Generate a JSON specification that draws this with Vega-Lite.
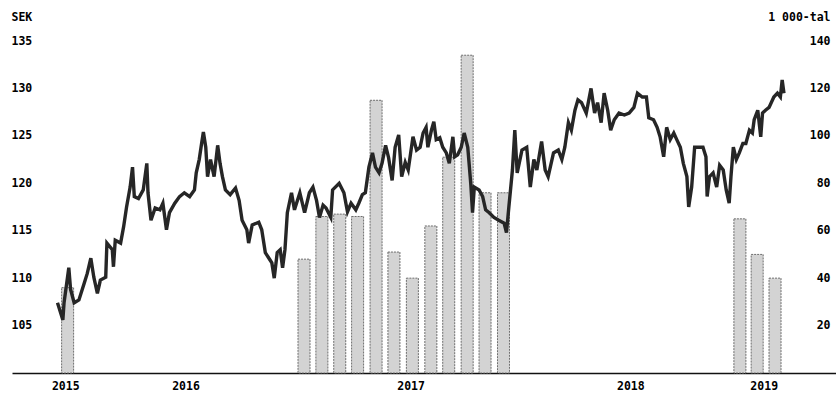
{
  "$schema": "https://vega.github.io/schema/vega-lite/v6.json",
  "width": 824,
  "height": 332,
  "autosize": {"type": "none"},
  "padding": {"left": 12, "top": 41, "right": 0, "bottom": 21},
  "background": "white",
  "config": {
    "view": {"stroke": null},
    "font": "DejaVu Sans Mono",
    "axis": {
      "labelFont": "DejaVu Sans Mono",
      "labelFontWeight": "bold",
      "labelFontSize": 11.5,
      "labelColor": "#000000",
      "titleFont": "DejaVu Sans Mono",
      "titleFontWeight": "bold",
      "titleFontSize": 11.5,
      "titleColor": "#000000",
      "grid": false,
      "ticks": false
    }
  },
  "datasets": {
    "volume": [
      {"date": "2015-12-15", "vol": 36},
      {"date": "2017-01-15", "vol": 48},
      {"date": "2017-02-14", "vol": 66},
      {"date": "2017-03-16", "vol": 67},
      {"date": "2017-04-15", "vol": 66},
      {"date": "2017-05-16", "vol": 115},
      {"date": "2017-06-15", "vol": 51},
      {"date": "2017-07-16", "vol": 40},
      {"date": "2017-08-16", "vol": 62},
      {"date": "2017-09-15", "vol": 91},
      {"date": "2017-10-16", "vol": 134},
      {"date": "2017-11-15", "vol": 76},
      {"date": "2017-12-16", "vol": 76},
      {"date": "2019-01-17", "vol": 65},
      {"date": "2019-02-15", "vol": 50},
      {"date": "2019-03-17", "vol": 40}
    ],
    "price": [
      {"date": "2015-11-28", "sek": 107.4},
      {"date": "2015-12-07", "sek": 105.6},
      {"date": "2015-12-09", "sek": 107.4},
      {"date": "2015-12-17", "sek": 111.1},
      {"date": "2015-12-20", "sek": 108.8},
      {"date": "2015-12-26", "sek": 107.4},
      {"date": "2016-01-03", "sek": 107.7},
      {"date": "2016-01-12", "sek": 109.5},
      {"date": "2016-01-17", "sek": 110.5},
      {"date": "2016-01-23", "sek": 112.1},
      {"date": "2016-01-28", "sek": 110.1},
      {"date": "2016-02-03", "sek": 108.4},
      {"date": "2016-02-08", "sek": 109.8},
      {"date": "2016-02-17", "sek": 110.1},
      {"date": "2016-02-19", "sek": 113.7},
      {"date": "2016-02-28", "sek": 113.0},
      {"date": "2016-03-01", "sek": 111.2},
      {"date": "2016-03-04", "sek": 114.0},
      {"date": "2016-03-13", "sek": 113.7},
      {"date": "2016-03-18", "sek": 115.4},
      {"date": "2016-03-23", "sek": 117.5},
      {"date": "2016-03-29", "sek": 119.6},
      {"date": "2016-04-02", "sek": 121.7},
      {"date": "2016-04-05", "sek": 118.6},
      {"date": "2016-04-12", "sek": 118.4},
      {"date": "2016-04-20", "sek": 119.3},
      {"date": "2016-04-26", "sek": 122.1},
      {"date": "2016-04-28", "sek": 119.0},
      {"date": "2016-05-03", "sek": 116.1},
      {"date": "2016-05-10", "sek": 117.4},
      {"date": "2016-05-18", "sek": 117.2},
      {"date": "2016-05-23", "sek": 117.9},
      {"date": "2016-05-29", "sek": 115.1},
      {"date": "2016-06-03", "sek": 116.9},
      {"date": "2016-06-12", "sek": 117.9},
      {"date": "2016-06-20", "sek": 118.6},
      {"date": "2016-06-28", "sek": 119.0},
      {"date": "2016-07-07", "sek": 118.6},
      {"date": "2016-07-15", "sek": 119.3},
      {"date": "2016-07-18", "sek": 121.1},
      {"date": "2016-07-23", "sek": 122.5},
      {"date": "2016-07-27", "sek": 124.2},
      {"date": "2016-07-30", "sek": 125.4},
      {"date": "2016-08-03", "sek": 123.8},
      {"date": "2016-08-06", "sek": 120.7},
      {"date": "2016-08-11", "sek": 122.5},
      {"date": "2016-08-17", "sek": 120.7},
      {"date": "2016-08-23", "sek": 124.0},
      {"date": "2016-08-27", "sek": 122.1},
      {"date": "2016-08-31", "sek": 120.7},
      {"date": "2016-09-05", "sek": 119.3},
      {"date": "2016-09-13", "sek": 118.8},
      {"date": "2016-09-22", "sek": 119.5},
      {"date": "2016-09-28", "sek": 118.2},
      {"date": "2016-10-03", "sek": 116.1},
      {"date": "2016-10-11", "sek": 115.1},
      {"date": "2016-10-14", "sek": 113.7},
      {"date": "2016-10-20", "sek": 115.6},
      {"date": "2016-10-31", "sek": 115.9},
      {"date": "2016-11-05", "sek": 115.1},
      {"date": "2016-11-11", "sek": 112.7},
      {"date": "2016-11-16", "sek": 112.2},
      {"date": "2016-11-22", "sek": 111.6},
      {"date": "2016-11-26", "sek": 110.0},
      {"date": "2016-12-01", "sek": 112.7},
      {"date": "2016-12-06", "sek": 113.0},
      {"date": "2016-12-10", "sek": 111.1},
      {"date": "2016-12-14", "sek": 113.0},
      {"date": "2016-12-18", "sek": 116.9},
      {"date": "2016-12-25", "sek": 119.0},
      {"date": "2016-12-30", "sek": 117.2},
      {"date": "2017-01-08", "sek": 119.0},
      {"date": "2017-01-16", "sek": 116.9},
      {"date": "2017-01-24", "sek": 119.0},
      {"date": "2017-01-30", "sek": 119.6},
      {"date": "2017-02-05", "sek": 118.2},
      {"date": "2017-02-10", "sek": 116.4},
      {"date": "2017-02-16", "sek": 117.7},
      {"date": "2017-02-21", "sek": 117.4},
      {"date": "2017-03-01", "sek": 116.4},
      {"date": "2017-03-04", "sek": 119.3},
      {"date": "2017-03-15", "sek": 120.0},
      {"date": "2017-03-23", "sek": 119.0},
      {"date": "2017-03-29", "sek": 117.0},
      {"date": "2017-04-04", "sek": 117.9},
      {"date": "2017-04-12", "sek": 117.2},
      {"date": "2017-04-17", "sek": 117.9},
      {"date": "2017-04-23", "sek": 118.8},
      {"date": "2017-04-28", "sek": 119.0},
      {"date": "2017-05-04", "sek": 121.7},
      {"date": "2017-05-10", "sek": 123.2},
      {"date": "2017-05-15", "sek": 121.7},
      {"date": "2017-05-21", "sek": 121.1},
      {"date": "2017-05-26", "sek": 122.1},
      {"date": "2017-06-01", "sek": 124.0},
      {"date": "2017-06-06", "sek": 122.7},
      {"date": "2017-06-12", "sek": 120.3},
      {"date": "2017-06-17", "sek": 123.8},
      {"date": "2017-06-23", "sek": 125.1},
      {"date": "2017-06-28", "sek": 120.7},
      {"date": "2017-07-04", "sek": 122.2},
      {"date": "2017-07-09", "sek": 121.4},
      {"date": "2017-07-17", "sek": 124.9},
      {"date": "2017-07-23", "sek": 123.5},
      {"date": "2017-07-29", "sek": 123.8},
      {"date": "2017-08-03", "sek": 125.3},
      {"date": "2017-08-08", "sek": 125.9},
      {"date": "2017-08-11", "sek": 123.8},
      {"date": "2017-08-17", "sek": 125.6},
      {"date": "2017-08-21", "sek": 126.5},
      {"date": "2017-08-25", "sek": 124.6},
      {"date": "2017-08-31", "sek": 124.8},
      {"date": "2017-09-05", "sek": 123.8},
      {"date": "2017-09-11", "sek": 123.2},
      {"date": "2017-09-16", "sek": 122.1},
      {"date": "2017-09-22", "sek": 124.9},
      {"date": "2017-09-25", "sek": 122.8},
      {"date": "2017-09-30", "sek": 123.0},
      {"date": "2017-10-06", "sek": 123.8},
      {"date": "2017-10-11", "sek": 125.3},
      {"date": "2017-10-17", "sek": 123.8},
      {"date": "2017-10-22", "sek": 120.0},
      {"date": "2017-10-25", "sek": 116.9},
      {"date": "2017-10-28", "sek": 119.6},
      {"date": "2017-11-05", "sek": 119.3},
      {"date": "2017-11-11", "sek": 118.6},
      {"date": "2017-11-16", "sek": 117.2},
      {"date": "2017-11-22", "sek": 116.9},
      {"date": "2017-11-30", "sek": 116.4},
      {"date": "2017-12-08", "sek": 116.1},
      {"date": "2017-12-17", "sek": 115.8},
      {"date": "2017-12-21", "sek": 114.8},
      {"date": "2017-12-25", "sek": 117.5},
      {"date": "2017-12-31", "sek": 121.4},
      {"date": "2018-01-04", "sek": 125.6},
      {"date": "2018-01-08", "sek": 121.1},
      {"date": "2018-01-16", "sek": 123.5},
      {"date": "2018-01-24", "sek": 123.8},
      {"date": "2018-01-30", "sek": 119.6},
      {"date": "2018-02-05", "sek": 122.5},
      {"date": "2018-02-10", "sek": 121.4},
      {"date": "2018-02-18", "sek": 124.4},
      {"date": "2018-02-24", "sek": 121.4},
      {"date": "2018-03-01", "sek": 120.7},
      {"date": "2018-03-10", "sek": 123.2},
      {"date": "2018-03-18", "sek": 123.5},
      {"date": "2018-03-24", "sek": 122.5},
      {"date": "2018-03-29", "sek": 123.8},
      {"date": "2018-04-04", "sek": 126.4},
      {"date": "2018-04-09", "sek": 125.6},
      {"date": "2018-04-15", "sek": 127.7},
      {"date": "2018-04-20", "sek": 128.8},
      {"date": "2018-04-26", "sek": 128.5},
      {"date": "2018-05-04", "sek": 127.4},
      {"date": "2018-05-12", "sek": 130.0},
      {"date": "2018-05-18", "sek": 127.4},
      {"date": "2018-05-23", "sek": 128.5},
      {"date": "2018-05-29", "sek": 126.4},
      {"date": "2018-06-03", "sek": 129.5},
      {"date": "2018-06-09", "sek": 127.7},
      {"date": "2018-06-14", "sek": 125.6},
      {"date": "2018-06-20", "sek": 126.7},
      {"date": "2018-06-28", "sek": 127.4},
      {"date": "2018-07-07", "sek": 127.2},
      {"date": "2018-07-15", "sek": 127.4},
      {"date": "2018-07-23", "sek": 128.0},
      {"date": "2018-07-29", "sek": 129.5},
      {"date": "2018-08-06", "sek": 129.1},
      {"date": "2018-08-13", "sek": 129.1},
      {"date": "2018-08-17", "sek": 126.9},
      {"date": "2018-08-25", "sek": 126.7},
      {"date": "2018-08-31", "sek": 125.9},
      {"date": "2018-09-05", "sek": 124.9},
      {"date": "2018-09-11", "sek": 122.8},
      {"date": "2018-09-16", "sek": 125.9},
      {"date": "2018-09-22", "sek": 124.6},
      {"date": "2018-09-28", "sek": 125.3},
      {"date": "2018-10-03", "sek": 124.6},
      {"date": "2018-10-09", "sek": 123.8},
      {"date": "2018-10-14", "sek": 122.1},
      {"date": "2018-10-20", "sek": 120.7},
      {"date": "2018-10-23", "sek": 117.5},
      {"date": "2018-10-28", "sek": 119.6},
      {"date": "2018-11-02", "sek": 123.8},
      {"date": "2018-11-11", "sek": 123.8},
      {"date": "2018-11-16", "sek": 123.8},
      {"date": "2018-11-21", "sek": 122.8},
      {"date": "2018-11-23", "sek": 118.6},
      {"date": "2018-11-27", "sek": 120.7},
      {"date": "2018-12-03", "sek": 121.1},
      {"date": "2018-12-09", "sek": 119.6},
      {"date": "2018-12-14", "sek": 121.9},
      {"date": "2018-12-20", "sek": 121.4},
      {"date": "2018-12-25", "sek": 119.3},
      {"date": "2018-12-30", "sek": 117.9},
      {"date": "2019-01-02", "sek": 120.7},
      {"date": "2019-01-06", "sek": 123.8},
      {"date": "2019-01-11", "sek": 122.5},
      {"date": "2019-01-16", "sek": 123.2},
      {"date": "2019-01-22", "sek": 124.2},
      {"date": "2019-01-27", "sek": 124.2},
      {"date": "2019-02-02", "sek": 125.6},
      {"date": "2019-02-07", "sek": 125.3},
      {"date": "2019-02-10", "sek": 126.7},
      {"date": "2019-02-16", "sek": 127.7},
      {"date": "2019-02-21", "sek": 124.9},
      {"date": "2019-02-24", "sek": 127.4},
      {"date": "2019-03-01", "sek": 127.7},
      {"date": "2019-03-07", "sek": 128.0},
      {"date": "2019-03-15", "sek": 129.1},
      {"date": "2019-03-21", "sek": 129.5},
      {"date": "2019-03-26", "sek": 129.1},
      {"date": "2019-03-29", "sek": 130.9},
      {"date": "2019-04-01", "sek": 129.5}
    ]
  },
  "layer": [
    {
      "data": {"name": "volume"},
      "mark": {"type": "bar", "size": 12, "fill": "#d3d3d3", "stroke": "#6e6e6e", "strokeWidth": 1, "strokeDash": [2, 1]},
      "encoding": {
        "x": {
          "field": "date",
          "type": "temporal",
          "scale": {
            "type": "utc",
            "nice": false,
            "domain": [
              {"year": 2015, "month": 9, "date": 21, "utc": true},
              {"year": 2019, "month": 6, "date": 19, "utc": true}
            ]
          },
          "axis": {
            "title": null,
            "values": [
              {"year": 2015, "month": 12, "date": 11, "utc": true},
              {"year": 2016, "month": 6, "date": 30, "utc": true},
              {"year": 2017, "month": 7, "date": 13, "utc": true},
              {"year": 2018, "month": 7, "date": 17, "utc": true},
              {"year": 2019, "month": 2, "date": 26, "utc": true}
            ],
            "format": "%Y",
            "domain": true,
            "domainColor": "#111111",
            "domainWidth": 1.5,
            "labelBaseline": "middle",
            "labelPadding": 13,
            "labelFlush": false
          }
        },
        "y": {
          "field": "vol",
          "type": "quantitative",
          "scale": {"domain": [0, 140], "nice": false, "zero": true},
          "axis": {
            "orient": "right",
            "values": [20, 40, 60, 80, 100, 120, 140],
            "domain": false,
            "labelAlign": "right",
            "labelPadding": -6,
            "title": "1 000-tal",
            "titleAngle": 0,
            "titleAlign": "right",
            "titleBaseline": "middle",
            "titleX": -6,
            "titleY": -24
          }
        }
      }
    },
    {
      "data": {"name": "price"},
      "mark": {"type": "line", "color": "#262626", "strokeWidth": 3.4, "strokeJoin": "miter"},
      "encoding": {
        "x": {"field": "date", "type": "temporal"},
        "y": {
          "field": "sek",
          "type": "quantitative",
          "scale": {"domain": [100, 135], "nice": false, "zero": false},
          "axis": {
            "orient": "left",
            "values": [105, 110, 115, 120, 125, 130, 135],
            "domain": false,
            "labelAlign": "left",
            "labelPadding": 1,
            "title": "SEK",
            "titleAngle": 0,
            "titleAlign": "left",
            "titleBaseline": "middle",
            "titleX": -1,
            "titleY": -24
          }
        }
      }
    }
  ],
  "resolve": {"scale": {"y": "independent"}}
}
